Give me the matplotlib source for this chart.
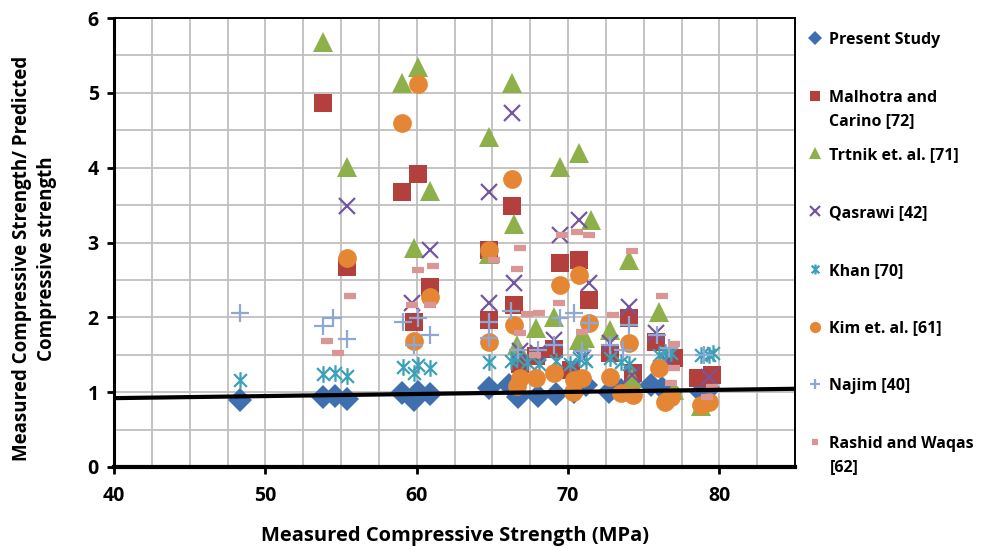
import matplotlib
matplotlib.use("Agg")
import matplotlib.pyplot as plt
from matplotlib.path import Path
from matplotlib.lines import Line2D

plt.rcParams['font.family'] = ['Open Sans', 'DejaVu Sans']
plt.rcParams['font.weight'] = 'bold'

# Measured strength (MPa) and ratio measured/predicted for each model
present_x = [48.3, 53.8, 54.6, 55.4, 59.0, 59.8, 60.1, 60.9, 64.8, 66.1, 66.7, 68.0, 69.2,
             70.4, 71.2, 72.7, 73.5, 75.5, 76.2, 76.8, 78.8, 79.3]
present_y = [0.90, 0.94, 0.95, 0.91, 0.99, 0.90, 1.00, 0.98, 1.05, 1.10, 0.94, 0.95, 0.97,
             1.00, 1.10, 1.00, 1.03, 1.10, 1.06, 1.00, 1.00, 1.04]

malhotra_x = [53.8, 55.4, 59.0, 59.8, 60.1, 60.9, 64.8, 64.8, 66.3, 66.4, 66.8, 67.9, 69.1,
              69.5, 70.2, 70.7, 71.4, 72.8, 74.0, 74.3, 75.8, 77.0, 78.6, 79.5]
malhotra_y = [4.87, 2.67, 3.68, 1.94, 3.92, 2.41, 1.96, 2.90, 3.49, 2.17, 1.38, 1.48, 1.58,
              2.72, 1.30, 2.77, 2.23, 1.52, 1.99, 1.26, 1.67, 1.46, 1.19, 1.23]

trtnik_x = [53.8, 55.4, 59.0, 59.8, 60.1, 60.9, 64.8, 64.8, 66.3, 66.4, 66.6, 67.9, 69.1,
            69.5, 70.7, 70.7, 71.1, 71.5, 72.8, 74.0, 74.2, 76.0, 77.0, 78.8]
trtnik_y = [5.68, 4.01, 5.13, 2.93, 5.35, 3.69, 4.41, 2.85, 5.13, 3.25, 1.63, 1.86, 2.00,
            4.01, 4.20, 1.70, 1.72, 3.30, 1.83, 2.77, 1.19, 2.07, 1.03, 0.82]

qasrawi_x = [55.4, 59.7, 60.9, 64.8, 64.8, 66.3, 66.4, 66.8, 68.0, 69.1, 69.5, 70.7, 71.0,
             71.4, 72.8, 74.0, 74.2, 75.8, 76.6, 79.3]
qasrawi_y = [3.49, 2.19, 2.90, 3.68, 2.19, 4.73, 2.46, 1.55, 1.52, 1.70, 3.10, 3.30, 1.45,
             2.46, 1.66, 2.14, 1.23, 1.79, 1.40, 1.20]

khan_x = [48.3, 53.8, 54.6, 55.4, 59.1, 59.8, 60.1, 60.9, 64.8, 66.2, 66.6, 67.3, 68.1,
          69.2, 70.1, 70.7, 71.2, 72.8, 73.5, 74.0, 76.0, 76.4, 76.8, 78.8, 79.3, 79.6]
khan_y = [1.16, 1.24, 1.26, 1.22, 1.34, 1.26, 1.36, 1.32, 1.40, 1.42, 1.45, 1.40, 1.37,
          1.42, 1.38, 1.45, 1.42, 1.45, 1.40, 1.38, 1.50, 1.54, 1.52, 1.50, 1.50, 1.52]

kim_x = [55.4, 59.0, 59.8, 60.1, 60.9, 64.8, 64.8, 66.3, 66.4, 66.6, 66.8, 67.9, 69.1,
         69.5, 70.3, 70.4, 70.7, 70.9, 71.4, 72.8, 73.5, 74.0, 74.3, 76.0, 76.4, 76.8,
         78.8, 79.3]
kim_y = [2.79, 4.60, 1.68, 5.12, 2.27, 2.90, 1.67, 3.85, 1.90, 1.08, 1.19, 1.19, 1.26,
         2.43, 1.00, 1.16, 2.57, 1.19, 1.92, 1.20, 0.99, 1.66, 0.96, 1.32, 0.87, 0.94,
         0.83, 0.87]

najim_x = [48.3, 53.8, 54.5, 55.4, 59.1, 59.8, 60.1, 60.9, 64.8, 64.8, 66.2, 66.7, 68.0,
           69.1, 69.5, 70.4, 70.9, 71.4, 72.8, 73.6, 74.0, 75.9, 76.7, 79.0]
najim_y = [2.06, 1.89, 1.99, 1.71, 1.94, 1.63, 1.99, 1.76, 1.72, 1.94, 2.09, 1.56, 1.56,
           1.63, 1.99, 2.06, 1.55, 1.93, 1.63, 1.56, 1.90, 1.76, 1.59, 1.50]

rashid_x = [54.1, 54.8, 55.6, 59.7, 60.1, 60.9, 61.1, 65.1, 66.6, 66.8, 66.8, 67.3, 67.8,
            68.1, 69.4, 69.6, 70.6, 70.9, 71.4, 73.0, 74.2, 76.2, 77.0, 77.0, 76.8,
            79.5, 79.2]
rashid_y = [1.68, 1.52, 2.29, 2.17, 2.63, 2.17, 2.69, 2.77, 2.65, 2.93, 1.79, 2.05, 1.50,
            2.06, 2.19, 3.10, 3.14, 1.80, 3.10, 2.03, 2.88, 2.28, 1.64, 1.32, 1.12,
            1.07, 0.94]

# linear trend through the present study results
trend_x = [40, 85]
trend_y = [0.92, 1.045]

# asterisk marker (x with a vertical bar)
star = Path([(-1, -1), (1, 1), (-1, 1), (1, -1), (0, -1.3), (0, 1.3)],
            [Path.MOVETO, Path.LINETO, Path.MOVETO, Path.LINETO, Path.MOVETO, Path.LINETO])

series = [
    ("Present Study", present_x, present_y, dict(marker='D', ms=12.5, color='#3F6FAE', mew=0)),
    ("Malhotra and\nCarino [72]", malhotra_x, malhotra_y, dict(marker='s', ms=12.5, color='#B3403D', mew=0)),
    ("Trtnik et. al. [71]", trtnik_x, trtnik_y, dict(marker='^', ms=14, color='#8DB04A', mew=0)),
    ("Qasrawi [42]", qasrawi_x, qasrawi_y, dict(marker='x', ms=11, color='#7456A0', mew=1.6)),
    ("Khan [70]", khan_x, khan_y, dict(marker=star, ms=12, color='#3CA0B8', mew=1.6, mfc='none')),
    ("Kim et. al. [61]", kim_x, kim_y, dict(marker='o', ms=13.5, color='#E58634', mew=0)),
    ("Najim [40]", najim_x, najim_y, dict(marker='+', ms=13, color='#8EA8D6', mew=1.6)),
    ("Rashid and Waqas\n[62]", rashid_x, rashid_y, dict(marker='_', ms=8, color='#D99694', mew=4.5)),
]

fig = plt.figure(figsize=(9.88, 5.47), dpi=100)
ax = fig.add_axes([0.1154, 0.1463, 0.6893, 0.8207])

for label, xs, ys, st in series:
    ax.plot(xs, ys, linestyle='none', **st)

ax.plot(trend_x, trend_y, color='black', lw=3, zorder=5)

ax.set_xlim(40, 85)
ax.set_ylim(0, 6)
ax.set_xticks([40, 50, 60, 70, 80])
ax.set_yticks(range(7))
ax.set_xticks([40 + 2.5 * i for i in range(19)], minor=True)
ax.set_yticks([0.5 * i for i in range(13)], minor=True)
ax.grid(True, which='both', color='#BFBFBF', lw=1.3)
ax.set_axisbelow(True)
ax.tick_params(which='minor', length=0)
ax.tick_params(which='major', length=5, width=2, direction='out', labelsize=14)
ax.tick_params(axis='x', pad=9)
ax.tick_params(axis='y', pad=6)
for lbl in ax.get_xticklabels() + ax.get_yticklabels():
    lbl.set_fontweight('bold')

ax.spines['left'].set_linewidth(2.2)
ax.spines['bottom'].set_linewidth(3)
ax.spines['top'].set_linewidth(1.4)
ax.spines['right'].set_linewidth(1.4)

ax.set_xlabel("Measured Compressive Strength (MPa)", fontsize=14.5, fontweight='bold', labelpad=14)
ax.set_ylabel("Measured Compressive Strength/ Predicted\nCompressive strength",
              fontsize=13.5, fontweight='bold', linespacing=1.35)
ax.yaxis.set_label_coords(-0.083, 0.465)

# legend drawn beside the plot, one slot per series
for i, (label, xs, ys, st) in enumerate(series):
    y = 1 - (38 + 57.7 * i) / 547
    h = Line2D([0.8245], [y], transform=fig.transFigure, linestyle='none', **st)
    h.set_markersize(st['ms'] * 0.6)
    fig.add_artist(h)
    fig.text(0.8395, y + 0.011, label, fontsize=11.5, fontweight='bold', va='top',
             linespacing=1.6, transform=fig.transFigure)

fig.savefig("out.png", dpi=100)
